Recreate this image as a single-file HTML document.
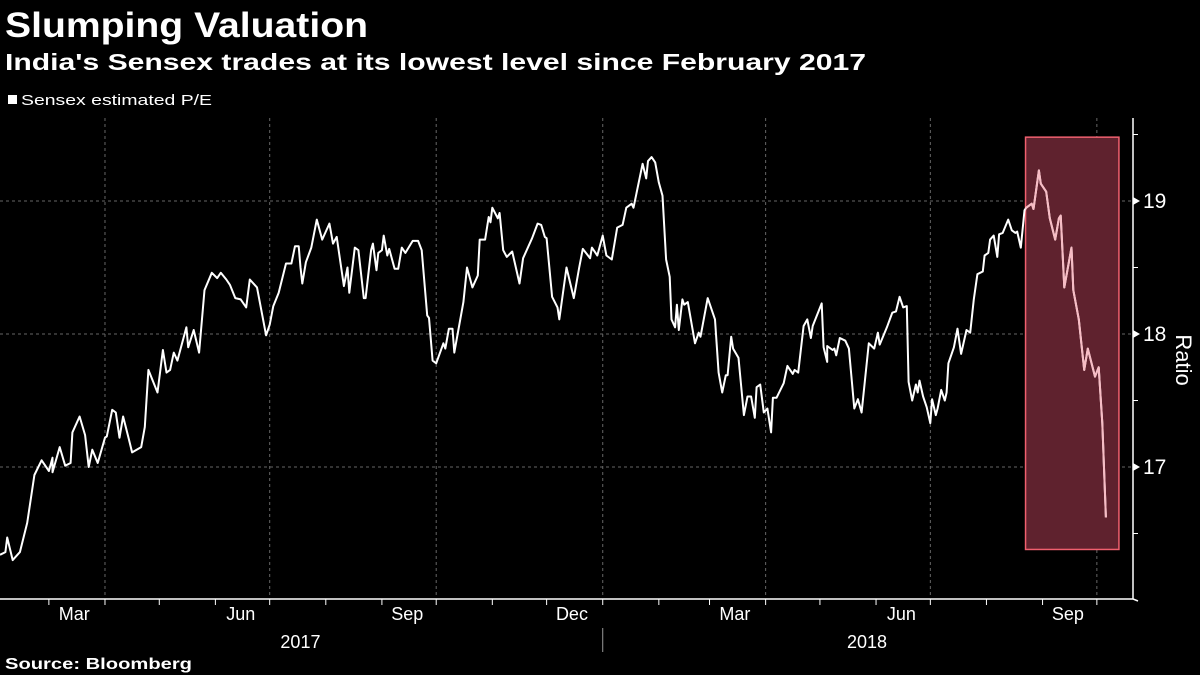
<!DOCTYPE html>
<html><head><meta charset="utf-8"><style>
body{margin:0;background:#000;width:1200px;height:675px;overflow:hidden;font-family:"Liberation Sans",sans-serif;color:#fff}
svg{position:absolute;left:0;top:0}
</style></head><body>
<svg id="c" width="1200" height="675">
<text x="5" y="37" font-size="35" font-weight="bold" fill="#fff" textLength="363" lengthAdjust="spacingAndGlyphs">Slumping Valuation</text>
<text x="5" y="70" font-size="23" font-weight="bold" fill="#fff" textLength="861" lengthAdjust="spacingAndGlyphs">India's Sensex trades at its lowest level since February 2017</text>
<rect x="8" y="95" width="9" height="9" fill="#fff"/>
<text x="21" y="105" font-size="15" fill="#fff" textLength="191" lengthAdjust="spacingAndGlyphs">Sensex estimated P/E</text>
<text x="5" y="669" font-size="16" font-weight="bold" fill="#fff" textLength="187" lengthAdjust="spacingAndGlyphs">Source: Bloomberg</text>
<text transform="translate(1176,360) rotate(90)" text-anchor="middle" font-size="22" fill="#fff">Ratio</text>
<g id="grid"></g><g id="hl"></g><g id="line"></g><g id="axes"></g>
</svg>
<script>
const days=[1,4,5,8,12,16,20,24,28,30,30,34,37,40,41,45,48,50,52,55,59,60,63,65,67,69,72,74,79,81,83,88,91,93,95,97,99,104,105,108,111,114,118,121,123,126,128,131,134,137,139,143,148,150,152,155,159,162,164,166,167,
168,170,173,176,179,183,185,187,191,193,194,197,199,202,203,206,207,209,210,212,213,215,216,219,221,223,225,229,232,234,237,238,240,242,246,247,249,251,252,257,259,262,265,266,269,271,272,273,276,277,279,281,284,288,290,295,298,300,302,303,306,309,310,314,318,321,323,327,
328,331,334,336,339,342,345,347,350,351,356,358,359,361,363,365,367,369,371,372,374,375,376,378,379,381,385,387,388,392,396,398,400,402,403,405,406,409,412,414,416,418,419,421,423,425,427,428,430,434,436,439,440,442,445,447,449,450,455,456,458,458,461,462,463,465,468,470,473,475,477,479,481,484,486,487,
491,494,496,498,500,502,503,505,507,508,509,511,513,515,516,518,519,521,523,524,525,527,528,530,532,535,537,539,541,544,545,547,548,550,552,553,555,558,560,562,563,565,567,
568,571,572,575,576,579,581,584,586,587,589,593,594,597,600,602,606,608,610,612];
const values=[16.34,16.36,16.47,16.30,16.36,16.58,16.94,17.05,16.97,17.07,16.96,17.15,17.01,17.03,17.26,17.38,17.24,17.00,17.13,17.03,17.22,17.23,17.43,17.41,17.22,17.38,17.22,17.11,17.15,17.30,17.73,17.56,17.88,17.71,17.73,17.86,17.80,18.05,17.90,18.03,17.86,18.33,18.46,18.42,18.46,18.41,18.37,18.27,18.26,18.20,18.41,18.35,17.99,18.07,18.21,18.31,18.53,18.53,18.66,18.66,18.50,
18.38,18.54,18.65,18.86,18.71,18.83,18.68,18.73,18.36,18.50,18.31,18.65,18.63,18.27,18.27,18.63,18.68,18.48,18.61,18.63,18.74,18.59,18.64,18.49,18.49,18.65,18.61,18.70,18.70,18.63,18.14,18.12,17.80,17.78,17.93,17.89,18.04,18.04,17.86,18.24,18.50,18.35,18.44,18.71,18.71,18.88,18.84,18.95,18.87,18.91,18.63,18.58,18.62,18.38,18.57,18.72,18.83,18.82,18.73,18.72,18.28,18.20,18.11,18.50,18.27,18.50,18.64,18.57,
18.65,18.59,18.74,18.59,18.56,18.80,18.82,18.95,18.98,18.95,19.28,19.17,19.30,19.33,19.29,19.14,19.04,18.56,18.43,18.11,18.05,18.22,18.03,18.26,18.22,18.24,17.93,18.01,17.98,18.27,18.11,17.71,17.56,17.69,17.69,17.98,17.89,17.82,17.39,17.53,17.53,17.37,17.60,17.62,17.41,17.44,17.26,17.52,17.52,17.63,17.76,17.70,17.73,17.71,18.06,18.11,17.97,18.06,18.23,17.90,17.79,17.91,17.88,17.89,17.84,17.97,17.95,17.89,17.44,17.51,17.41,17.67,17.93,17.89,18.01,17.92,
18.05,18.16,18.17,18.28,18.20,18.21,17.64,17.50,17.62,17.56,17.65,17.53,17.45,17.33,17.51,17.39,17.44,17.58,17.50,17.56,17.78,17.86,17.90,18.04,17.85,18.03,18.01,18.26,18.45,18.47,18.59,18.61,18.71,18.74,18.58,18.75,18.76,18.86,18.78,18.76,18.77,18.65,18.93,
18.95,18.98,18.94,19.23,19.13,19.07,18.87,18.71,18.87,18.89,18.35,18.65,18.33,18.11,17.73,17.89,17.68,17.75,17.33,16.62];
const yTicks=[17,18,19];
const monthLabels=["Mar","Jun","Sep","Dec","Mar","Jun","Sep"];
const monthLabelDays=[42,134,226,317,407,499,591];
const gridDays=[59,150,242,334,424,515,607];
const monthTickDays=[28,59,89,120,150,181,212,242,273,303,334,365,393,424,454,485,515,546,577,607];
const yearLabels=["2017","2018"];
const yearLabelDays=[167,480];
const highlightStartDay=567.6, highlightEndDay=619.2, highlightTop=19.48, highlightBottom=16.38;

const X=d=>(d-1)*1.81;
const Y=v=>201+(19-v)*133;
const NS="http://www.w3.org/2000/svg";
function mk(tag,attrs,parent){const e=document.createElementNS(NS,tag);for(const k in attrs)e.setAttribute(k,attrs[k]);document.getElementById(parent).appendChild(e);return e;}

yTicks.forEach(v=>{
  const g=mk('line',{x1:0,x2:1132,y1:Y(v),y2:Y(v),stroke:'#666','stroke-dasharray':'3,3','stroke-width':1},'grid');
  
  
  const t=mk('text',{x:1143,y:Y(v)+7,'font-size':21,fill:'#fff'},'axes');t.textContent=v;
  
  
  const a=mk('path',{d:`M1133 ${Y(v)-4} L1140 ${Y(v)} L1133 ${Y(v)+4}Z`,fill:'#fff'},'axes');
  
  
});
[16.5,17.5,18.5,19.5].forEach(v=>{
  const m=mk('line',{x1:1133,x2:1138,y1:Y(v),y2:Y(v),stroke:'#fff'},'axes');
  
  
});
gridDays.forEach(d=>{
  const g=mk('line',{x1:X(d),x2:X(d),y1:118,y2:598,stroke:'#666','stroke-dasharray':'3,3'},'grid');
  
  
});
const r=mk('rect',{x:X(highlightStartDay),y:Y(highlightTop),width:X(highlightEndDay)-X(highlightStartDay),height:Y(highlightBottom)-Y(highlightTop),fill:'#5f222e',stroke:'#f0606f','stroke-width':1.5},'hl');


const cp=mk('clipPath',{id:'hc'},'hl');
const cr=document.createElementNS(NS,'rect');cr.setAttribute('x',X(highlightStartDay));cr.setAttribute('y',0);cr.setAttribute('width',X(highlightEndDay)-X(highlightStartDay));cr.setAttribute('height',675);cp.appendChild(cr);
const d=days.map((dd,i)=>(i?'L':'M')+X(dd).toFixed(1)+' '+Y(values[i]).toFixed(1)).join(' ');
const p=mk('path',{d:d,fill:'none',stroke:'#fff','stroke-width':2,'stroke-linejoin':'round'},'line');


const p2=mk('path',{d:d,fill:'none',stroke:'#f7bcc4','stroke-width':2,'stroke-linejoin':'round','clip-path':'url(#hc)'},'line');



const ax=mk('path',{d:'M0 599 L1133 599 M1133 118 L1133 599 L1138 601',stroke:'#fff','stroke-width':1.5,fill:'none'},'axes');


monthTickDays.forEach(dd=>{
  const t=mk('line',{x1:X(dd),x2:X(dd),y1:599,y2:605,stroke:'#fff'},'axes');
  
  
});
monthLabels.forEach((m,i)=>{
  const t=mk('text',{x:X(monthLabelDays[i]),y:620,'text-anchor':'middle','font-size':18,fill:'#fff'},'axes');t.textContent=m;
  
  
});
yearLabels.forEach((y,i)=>{
  const t=mk('text',{x:X(yearLabelDays[i]),y:648,'text-anchor':'middle','font-size':18,fill:'#fff'},'axes');t.textContent=y;
  
  
});
const ys=mk('line',{x1:X(334),x2:X(334),y1:628,y2:652,stroke:'#999'},'axes');


</script>
</body></html>
